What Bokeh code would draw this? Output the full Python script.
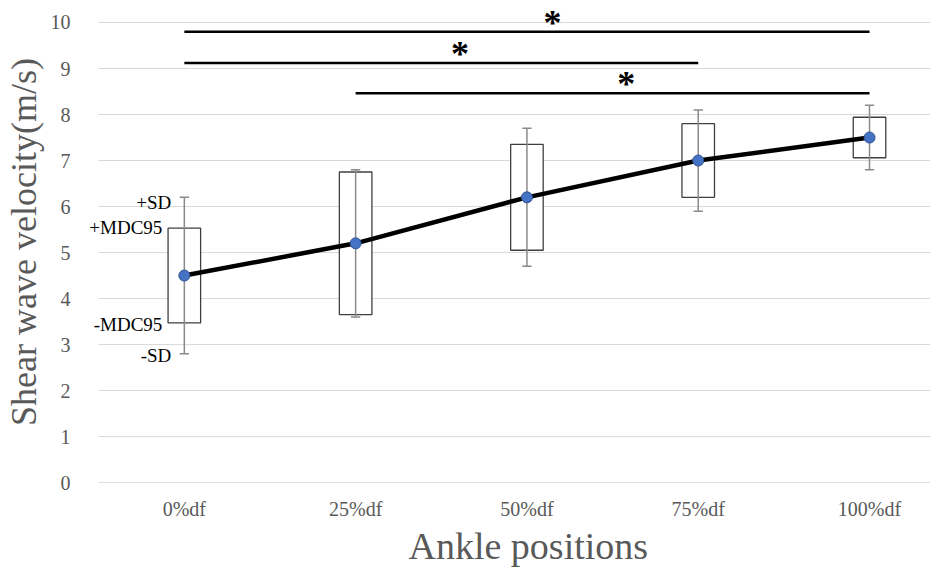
from bokeh.plotting import figure
from bokeh.models import FixedTicker, Range1d, ColumnDataSource, Label, Title
from bokeh.core.properties import value
from bokeh.embed import file_html
from bokeh.resources import INLINE

# ---- data ----
categories = ["0%df", "25%df", "50%df", "75%df", "100%df"]
means = [4.5, 5.2, 6.2, 7.0, 7.5]
sd = [1.7, 1.6, 1.5, 1.1, 0.7]
mdc95 = [1.03, 1.55, 1.15, 0.8, 0.44]
y_ticks = [0, 1, 2, 3, 4, 5, 6, 7, 8, 9, 10]
sig_start = [0, 0, 1]
sig_end = [4, 3, 4]
sig_level = [9.8, 9.12, 8.46]
sig_star_x = [2.15, 1.61, 2.58]
sig_mark = ["*", "*", "*"]
range_labels = ["+SD", "+MDC95", "-MDC95", "-SD"]

FONT = "Liberation Serif"
GRAY = "#595959"

xs = list(range(len(categories)))
X_START, X_END = -0.577, 4.356

p = figure(width=930, height=571,
           x_range=Range1d(X_START, X_END), y_range=Range1d(-0.02, 10.478),
           output_backend="svg", toolbar_location=None,
           min_border_left=84, min_border_right=0, min_border_top=0,
           min_border_bottom=88)
p.outline_line_color = None
p.background_fill_color = "white"

# grid lines drawn as glyphs (start at the category band edge)
p.xgrid.visible = False
p.ygrid.visible = False
p.segment(x0=[-0.5] * len(y_ticks), x1=[X_END] * len(y_ticks),
          y0=y_ticks, y1=y_ticks, line_color="#d9d9d9", line_width=1)

# boxes (mean +/- MDC95)
box_src = ColumnDataSource(dict(
    x=xs,
    bottom=[m - d for m, d in zip(means, mdc95)],
    top=[m + d for m, d in zip(means, mdc95)],
))
p.vbar(x="x", width=0.19, bottom="bottom", top="top", source=box_src,
       fill_color="white", line_color="#3f3f3f", line_width=1.3)

# SD whiskers
lo = [m - s for m, s in zip(means, sd)]
hi = [m + s for m, s in zip(means, sd)]
cap = 0.027
p.segment(x0=xs, y0=lo, x1=xs, y1=hi, line_color="#8a8a8a", line_width=1.5)
p.segment(x0=[x - cap for x in xs], y0=lo, x1=[x + cap for x in xs], y1=lo,
          line_color="#8a8a8a", line_width=1.5)
p.segment(x0=[x - cap for x in xs], y0=hi, x1=[x + cap for x in xs], y1=hi,
          line_color="#8a8a8a", line_width=1.5)

# mean line and markers
p.line(xs, means, line_color="black", line_width=4.5)
p.scatter(xs, means, size=11, fill_color="#4472C4", line_color="#2F528F",
          line_width=1)

# significance brackets
p.segment(x0=sig_start, x1=sig_end, y0=sig_level, y1=sig_level,
          line_color="black", line_width=2.5)
p.text(x=sig_star_x, y=sig_level, text=sig_mark,
       text_font=value(FONT), text_font_size="36px", text_font_style="bold",
       text_align="center", text_baseline="middle", y_offset=-9,
       text_color="black")

# range labels next to first box
lab_y = [means[0] + sd[0], means[0] + mdc95[0], means[0] - mdc95[0], means[0] - sd[0]]
lab_xo = [-13, -22, -22, -13]
lab_yo = [-4.7, 1, -1.3, -1.7]
for t, yv, xo, yo in zip(range_labels, lab_y, lab_xo, lab_yo):
    p.add_layout(Label(x=xs[0], y=yv, text=t, x_offset=xo, y_offset=yo,
                       text_font=FONT, text_font_size="19px",
                       text_align="right", text_baseline="middle",
                       text_color="black"))

# axes
p.xaxis.ticker = FixedTicker(ticks=xs)
p.xaxis.major_label_overrides = {i: c for i, c in enumerate(categories)}
p.yaxis.ticker = FixedTicker(ticks=y_ticks)
for ax in (p.xaxis, p.yaxis):
    ax.axis_line_color = None
    ax.major_tick_line_color = None
    ax.minor_tick_line_color = None
    ax.major_label_text_font = FONT
    ax.major_label_text_font_size = "20px"
    ax.major_label_text_color = GRAY
    ax.axis_label_text_font = FONT
    ax.axis_label_text_font_style = "normal"
    ax.axis_label_text_color = GRAY

p.yaxis.axis_label_text_font_size = "36px"
p.yaxis.axis_label = "Shear wave velocity(m/s)"
p.xaxis.major_label_standoff = 8
p.yaxis.major_label_standoff = 9
p.yaxis.axis_label_standoff = 4

# x-axis title, placed under the middle category
p.add_layout(Title(text="Ankle positions", align="left", offset=323,
                   text_font=FONT, text_font_size="38px",
                   text_font_style="normal", text_color=GRAY,
                   standoff=0), "below")

open("out.html", "w").write(file_html(p, INLINE))
